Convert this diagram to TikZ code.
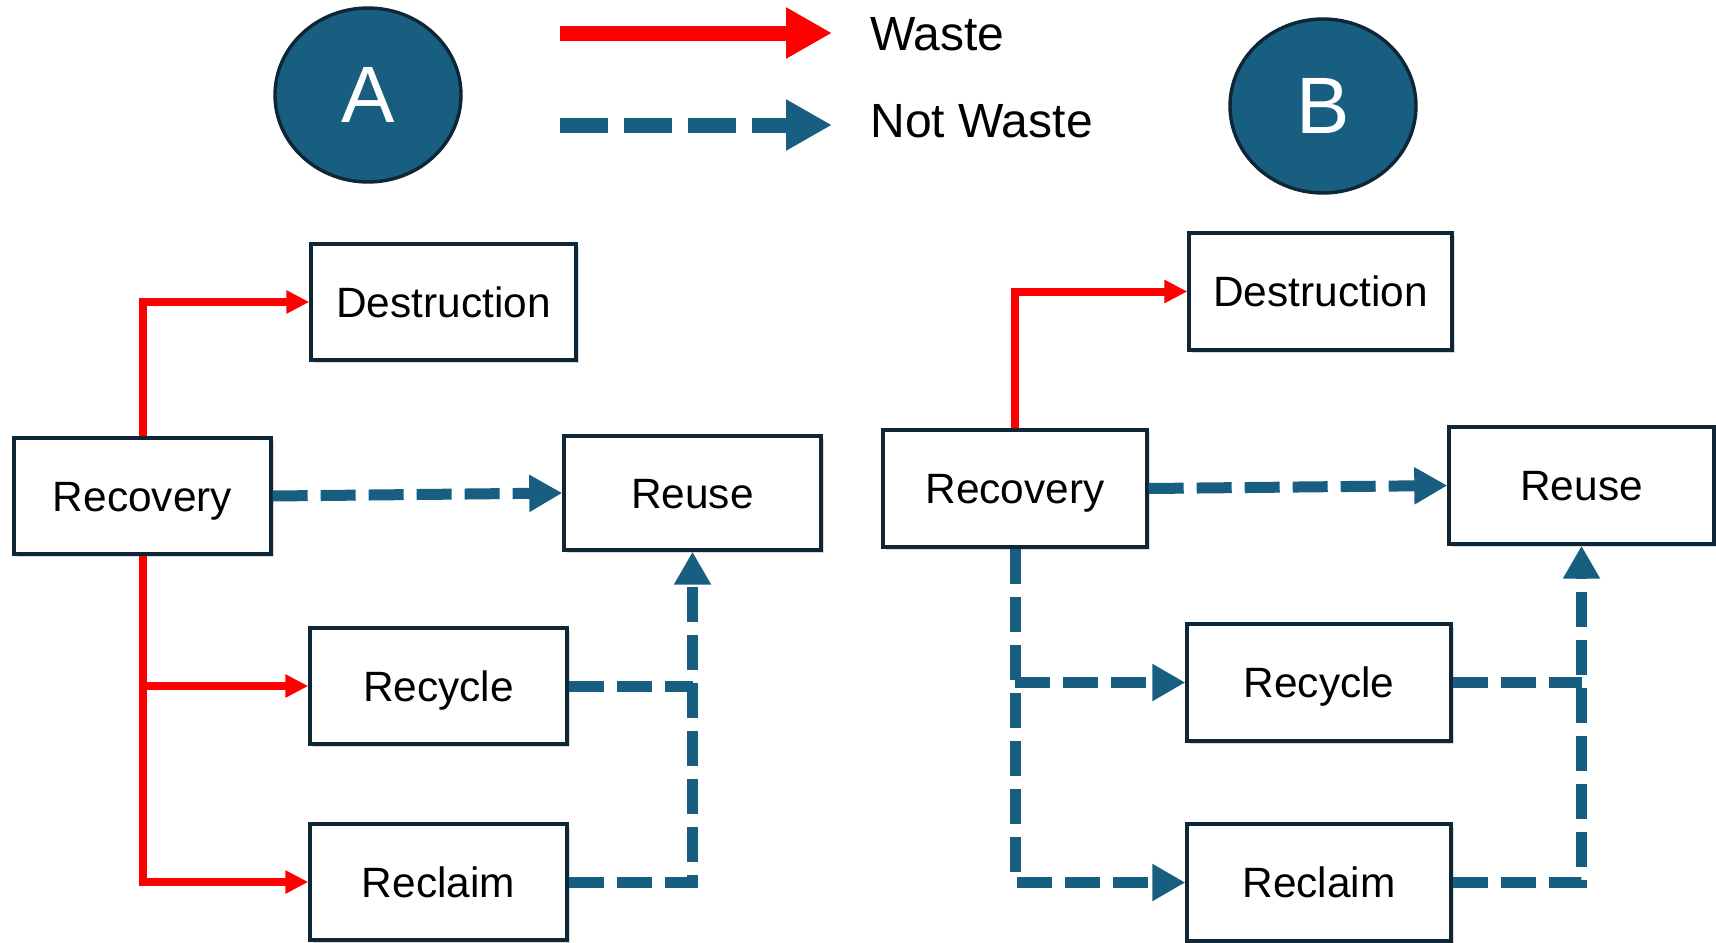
\documentclass[tikz,border=0pt]{standalone}
\usepackage{fontspec}
\setmainfont{Liberation Sans}
\usetikzlibrary{arrows.meta,shapes.geometric,shadows}
\definecolor{cblue}{RGB}{23,94,128}
\definecolor{cnavy}{RGB}{14,38,54}
\definecolor{cred}{RGB}{255,0,0}
\begin{document}
\begin{tikzpicture}[x=0.5pt,y=-0.5pt,
  box/.style={draw=cnavy, line width=1.7pt, fill=white, inner sep=0pt,
    minimum width=128.5pt, minimum height=58pt,
    text height=15.2pt, text depth=0pt,
    font=\fontsize{21.2}{25}\selectfont,
    drop shadow={shadow xshift=1.5pt,shadow yshift=-1.5pt,opacity=0.25,fill=black!60}},
  circ/.style={ellipse, draw=cnavy, fill=cblue, line width=1.7pt, inner sep=0pt,
    minimum width=93pt, minimum height=87pt, text=white,
    font=\fontsize{40}{48}\selectfont},
  legtext/.style={anchor=west, inner sep=0pt, text height=17.2pt, text depth=0pt,
    font=\fontsize{24}{28}\selectfont},
  waste/.style={draw=cred, line width=4pt, -{Triangle[length=11.5pt,width=11pt]}},
  wasteline/.style={draw=cred, line width=4pt},
  notwaste/.style={draw=cblue, line width=5.5pt, dash pattern=on 17.5pt off 6.5pt,
    -{Triangle[length=16.5pt,width=17.5pt]}},
  nwline/.style={draw=cblue, line width=5.5pt, dash pattern=on 17.5pt off 6.5pt},
  legwaste/.style={draw=cred, line width=7.5pt, -{Triangle[length=23pt,width=24pt]}},
  legnw/.style={draw=cblue, line width=7.5pt, dash pattern=on 24pt off 8pt,
    -{Triangle[length=23pt,width=24pt]}}
]
\useasboundingbox (0,0) rectangle (1716,942);

% circles
\node[circ] (A) at (368,95) {A};
\node[circ] (B) at (1323,106) {B};

% legend
\coordinate (l1s) at (560,33);
\coordinate (l1e) at (832,33);
\coordinate (l2s) at (560,125);
\coordinate (l2e) at (832,125);
\draw[legwaste] (l1s) -- (l1e);
\draw[legnw] (l2s) -- (l2e);
\node[legtext] (tw) at (870,33) {Waste};
\node[legtext] (tnw) at (870,120) {Not Waste};

% diagram A
\node[box, minimum width=132.5pt] (DesA) at (443.5,302) {Destruction};
\node[box] (RecA) at (142.5,496) {Recovery};
\node[box, minimum height=57pt] (ReuA) at (692.5,493) {Reuse};
\node[box] (RcyA) at (438.5,686) {Recycle};
\node[box] (RclA) at (438.5,882) {Reclaim};

\draw[waste] (RecA.north) |- (DesA.west);
\draw[waste] (RecA.south) |- (RclA.west);
\draw[waste] (RecA.south |- RcyA.west) -- (RcyA.west);
\draw[notwaste] (RecA.east) -- (ReuA.west);
\draw[nwline] (RcyA.east) -- (RcyA.east -| ReuA.south);
\draw[notwaste] (RclA.east) -| (ReuA.south);

% diagram B
\node[box, minimum width=131.5pt, minimum height=58.5pt] (DesB) at (1320.5,291.5) {Destruction};
\node[box, minimum width=132pt, minimum height=58.5pt] (RecB) at (1015,488.5) {Recovery};
\node[box, minimum width=132.5pt, minimum height=58.5pt] (ReuB) at (1581.5,485.5) {Reuse};
\node[box, minimum width=132pt, minimum height=58.5pt] (RcyB) at (1319,682.5) {Recycle};
\node[box, minimum width=132pt, minimum height=58.5pt] (RclB) at (1319,882.5) {Reclaim};

\draw[waste] (RecB.north) |- (DesB.west);
\draw[notwaste] (RecB.east) -- (ReuB.west);
\draw[notwaste] (RecB.south) |- (RclB.west);
\draw[notwaste] (RecB.south |- RcyB.west) -- (RcyB.west);
\draw[nwline] (RcyB.east) -- (RcyB.east -| ReuB.south);
\draw[notwaste] (RclB.east) -| (ReuB.south);
\end{tikzpicture}
\end{document}
